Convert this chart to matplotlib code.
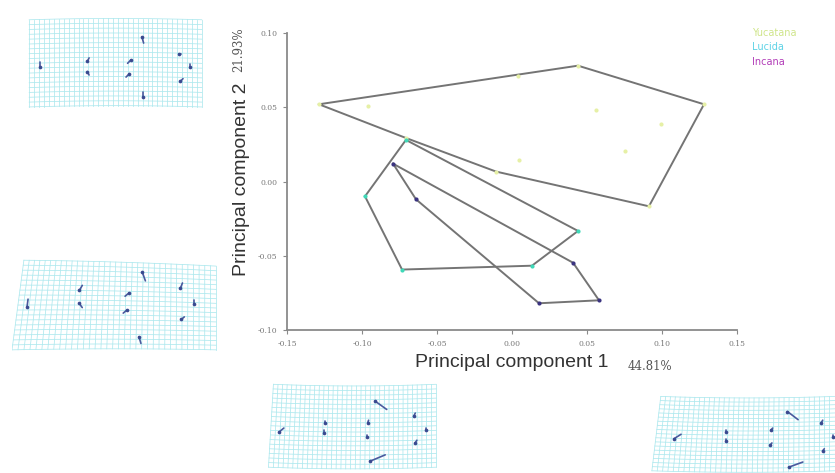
import matplotlib
matplotlib.use("Agg")
import matplotlib.pyplot as plt
import numpy as np

# ---------------- data ----------------
group_names = ["Yucatana", "Lucida", "Incana"]
legend_colors = ["#cfe58a", "#5fd3e6", "#b23cb8"]
point_colors = ["#e6f0a6", "#3fd9b8", "#3b3480"]

yuc_x = [-0.1287, -0.0960, 0.0040, 0.0440, 0.0560, 0.0993, 0.1280, 0.0753, 0.0047, 0.0913, -0.0107, -0.0707]
yuc_y = [0.0520, 0.0507, 0.0713, 0.0780, 0.0480, 0.0387, 0.0520, 0.0207, 0.0147, -0.0167, 0.0067, 0.0293]

luc_x = [-0.0707, -0.0980, 0.0440, -0.0733, 0.0133]
luc_y = [0.0280, -0.0100, -0.0333, -0.0593, -0.0567]

inc_x = [-0.0793, -0.0640, 0.0407, 0.0580, 0.0180]
inc_y = [0.0120, -0.0120, -0.0547, -0.0800, -0.0820]

x_ticks = [-0.15, -0.10, -0.05, 0.00, 0.05, 0.10, 0.15]
y_ticks = [-0.10, -0.05, 0.00, 0.05, 0.10]
x_label = "Principal component 1"
y_label = "Principal component 2"
x_pct = "44.81%"
y_pct = "21.93%"

# landmark configurations of the four deformation grids (normalised grid coords)
lm1_u = [0.063, 0.337, 0.337, 0.590, 0.581, 0.653, 0.657, 0.867, 0.933, 0.876]
lm1_v = [0.456, 0.509, 0.393, 0.526, 0.368, 0.789, 0.105, 0.604, 0.449, 0.288]
lm2_u = [0.047, 0.305, 0.309, 0.559, 0.552, 0.625, 0.614, 0.820, 0.888, 0.825]
lm2_v = [0.481, 0.667, 0.519, 0.648, 0.452, 0.889, 0.141, 0.722, 0.537, 0.352]
lm3_u = [0.050, 0.324, 0.324, 0.586, 0.580, 0.630, 0.604, 0.864, 0.940, 0.874]
lm3_v = [0.426, 0.548, 0.433, 0.556, 0.381, 0.815, 0.093, 0.622, 0.452, 0.304]
lm4_u = [0.101, 0.391, 0.391, 0.642, 0.639, 0.734, 0.743, 0.923, 0.990, 0.932]
lm4_v = [0.438, 0.542, 0.417, 0.563, 0.363, 0.813, 0.063, 0.646, 0.458, 0.271]
# landmark displacement vectors
vec1_du = [0.000, 0.010, 0.010, -0.020, -0.020, 0.010, 0.000, 0.015, 0.000, 0.015]
vec1_dv = [0.060, 0.040, -0.040, -0.040, -0.040, -0.070, 0.050, 0.000, 0.040, 0.030]
vec2_du = [0.005, 0.015, 0.015, -0.020, -0.020, 0.015, 0.010, 0.010, 0.000, 0.015]
vec2_dv = [0.090, 0.060, -0.050, -0.040, -0.040, -0.100, -0.080, 0.060, 0.050, 0.030]
vec3_du = [0.030, 0.000, 0.000, 0.005, 0.000, 0.070, 0.090, 0.010, 0.000, 0.010]
vec3_dv = [0.050, 0.030, 0.030, 0.030, 0.030, -0.100, 0.075, 0.040, 0.030, 0.030]
vec4_du = [0.040, 0.000, 0.000, 0.010, 0.010, 0.060, 0.080, 0.010, 0.000, 0.010]
vec4_dv = [0.060, 0.030, 0.030, 0.030, 0.030, -0.110, 0.070, 0.040, 0.030, 0.030]

# ---------------- figure ----------------
W, H = 835, 473
fig = plt.figure(figsize=(W / 100, H / 100), dpi=100)
fig.patch.set_facecolor("white")


def px_axes(x0, y0, x1, y1):
    return fig.add_axes([x0 / W, 1 - y1 / H, (x1 - x0) / W, (y1 - y0) / H])


def hull(xs, ys):
    pts = sorted(set(zip(xs, ys)))

    def cross(o, a, b):
        return (a[0] - o[0]) * (b[1] - o[1]) - (a[1] - o[1]) * (b[0] - o[0])

    lower, upper = [], []
    for p in pts:
        while len(lower) >= 2 and cross(lower[-2], lower[-1], p) <= 0:
            lower.pop()
        lower.append(p)
    for p in reversed(pts):
        while len(upper) >= 2 and cross(upper[-2], upper[-1], p) <= 0:
            upper.pop()
        upper.append(p)
    h = lower[:-1] + upper[:-1]
    h.append(h[0])
    return [p[0] for p in h], [p[1] for p in h]


ax = px_axes(287, 33, 737, 330)
ax.set_xlim(-0.15, 0.15)
ax.set_ylim(-0.10, 0.10)
for s in ["top", "right"]:
    ax.spines[s].set_visible(False)
for s in ["left", "bottom"]:
    ax.spines[s].set_color("#8a8a8a")
    ax.spines[s].set_linewidth(1.3)
ax.set_xticks(x_ticks)
ax.set_yticks(y_ticks)
ax.set_xticklabels([f"{t:.2f}" for t in x_ticks])
ax.set_yticklabels([f"{t:.2f}" for t in y_ticks])
ax.tick_params(direction="out", length=3, width=0.8, color="#8a8a8a",
               labelsize=5.5, labelcolor="#777777", pad=4)
for lab in ax.get_xticklabels() + ax.get_yticklabels():
    lab.set_family("DejaVu Serif")

groups = [(yuc_x, yuc_y), (luc_x, luc_y), (inc_x, inc_y)]
for (gx, gy), pc in zip(groups, point_colors):
    hx, hy = hull(gx, gy)
    ax.plot(hx, hy, color="#747474", lw=1.4, zorder=2, solid_joinstyle="miter")
for (gx, gy), pc in zip(groups, point_colors):
    ax.scatter(gx, gy, s=9, color=pc, zorder=3, linewidths=0)

fig.text(512 / W, 1 - 362 / H, x_label, ha="center", va="center",
         fontsize=14, color="#333333", family="Liberation Sans")
fig.text(650 / W, 1 - 366 / H, x_pct, ha="center", va="center",
         fontsize=8.5, color="#555555", family="DejaVu Serif")
fig.text(241 / W, 1 - 179 / H, y_label, ha="center", va="center",
         rotation=90, fontsize=14, color="#333333", family="Liberation Sans")
fig.text(239 / W, 1 - 50 / H, y_pct, ha="center", va="center",
         rotation=90, fontsize=8.5, color="#555555", family="DejaVu Serif")

for i, (name, c) in enumerate(zip(group_names, legend_colors)):
    fig.text(752 / W, 1 - (33 + 14.5 * i) / H, name, ha="left", va="center",
             fontsize=7, color=c)


# ---------------- deformation grids ----------------
def warp(u, v, a, b, c):
    uu = u + a * (v - 0.5) * (1 - u) ** 2
    vv = v + b * (u - 0.5) ** 2 + c * (1 - u) * v
    return uu, vv


def thumb(box, lu, lv, du, dv, prm):
    tax = px_axes(*box)
    tax.set_xlim(-0.03, 1.03)
    tax.set_ylim(-0.05, 1.12)
    tax.axis("off")
    t = np.linspace(0, 1, 60)
    for u0 in np.linspace(0, 1, 36):
        x, y = warp(np.full_like(t, u0), t, *prm)
        tax.plot(x, y, color="#ade8ee", lw=0.55)
    for v0 in np.linspace(0, 1, 19):
        x, y = warp(t, np.full_like(t, v0), *prm)
        tax.plot(x, y, color="#ade8ee", lw=0.55)
    lu = np.array(lu); lv = np.array(lv)
    wu, wv = warp(lu, lv, *prm)
    for x, y, ddx, ddy in zip(wu, wv, du, dv):
        tax.plot([x, x + ddx], [y, y + ddy], color="#4a5a9e", lw=1.2,
                 solid_capstyle="round")
    tax.scatter(wu, wv, s=7, color="#3a4a90", zorder=3, linewidths=0)


thumb((24, 8, 207, 110), lm1_u, lm1_v, vec1_du, vec1_dv, (0.0, -0.06, 0.0))
thumb((12, 255, 222, 353), lm2_u, lm2_v, vec2_du, vec2_dv, (0.06, -0.05, 0.07))
thumb((266, 376, 441, 473), lm3_u, lm3_v, vec3_du, vec3_dv, (0.03, 0.08, 0.0))
thumb((651, 389, 840, 476), lm4_u, lm4_v, vec4_du, vec4_dv, (0.05, 0.08, 0.0))

fig.savefig("out.png", dpi=100, facecolor="white")
